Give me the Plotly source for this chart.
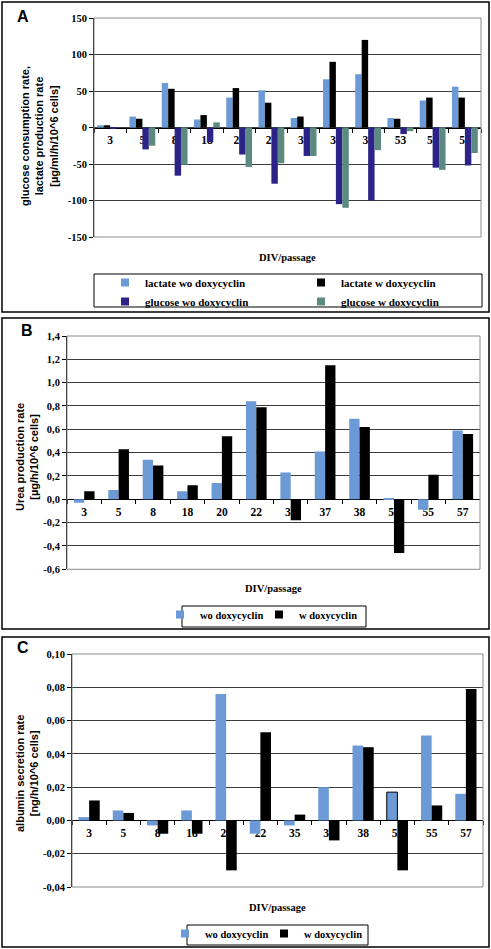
import plotly.graph_objects as go

# ---------------- data ----------------
categories = ["3", "5", "8", "18", "20", "22", "35", "37", "38", "53", "55", "57"]

# Panel A: glucose consumption / lactate production [µg/ml/h/10^6 cells]
lactate_wo = [3, 15, 61, 11, 41, 51, 13, 66, 73, 13, 37, 56]
lactate_w = [3, 12, 53, 17, 54, 34, 15, 90, 120, 12, 41, 41]
glucose_wo = [-2, -30, -66, -20, -37, -77, -39, -105, -100, -9, -55, -52]
glucose_w = [0, -25, -51, 7, -54, -49, -39, -110, -31, -5, -58, -35]

# Panel B: urea production rate [µg/h/10^6 cells]
urea_wo = [-0.03, 0.08, 0.34, 0.07, 0.14, 0.84, 0.23, 0.41, 0.69, 0.01, -0.09, 0.59]
urea_w = [0.07, 0.43, 0.29, 0.12, 0.54, 0.79, -0.18, 1.15, 0.62, -0.46, 0.21, 0.56]

# Panel C: albumin secretion rate [ng/h/10^6 cells]
albumin_wo = [0.002, 0.006, -0.003, 0.006, 0.076, -0.008, -0.003, 0.020, 0.045, 0.017, 0.051, 0.016]
albumin_w = [0.012, 0.0045, -0.008, -0.008, -0.030, 0.053, 0.0035, -0.012, 0.044, -0.030, 0.009, 0.079]

# tick labels
ytick_vals_A = [-150, -100, -50, 0, 50, 100, 150]
ytick_text_A = ["-150", "-100", "-50", "0", "50", "100", "150"]
ytick_vals_B = [-0.6, -0.4, -0.2, 0.0, 0.2, 0.4, 0.6, 0.8, 1.0, 1.2, 1.4]
ytick_text_B = ["-0,6", "-0,4", "-0,2", "0,0", "0,2", "0,4", "0,6", "0,8", "1,0", "1,2", "1,4"]
ytick_vals_C = [-0.04, -0.02, 0.00, 0.02, 0.04, 0.06, 0.08, 0.10]
ytick_text_C = ["-0,04", "-0,02", "0,00", "0,02", "0,04", "0,06", "0,08", "0,10"]

# ---------------- styling ----------------
W, H = 491, 949
C_LWO = "#6b9ad6"
C_LW = "#000000"
C_GWO = "#2b2388"
C_GW = "#5c8a80"
SERIF = "Liberation Serif"
SANS = "Liberation Sans"


def fx(px):
    return px / W


def fy(px):
    return 1 - px / H


panels = {
    "A": dict(xd=[94, 481], yd=[18, 237], rng=[-150, 150]),
    "B": dict(xd=[67, 480], yd=[336, 569.3], rng=[-0.6, 1.4]),
    "C": dict(xd=[72, 483], yd=[654, 887], rng=[-0.04, 0.10]),
}

fig = go.Figure()


def add_bars(series, xa, ya, width, legend):
    n = len(series)
    total = width * n
    for i, (name, vals, color, lw) in enumerate(series):
        off = -total / 2 + i * width
        fig.add_trace(go.Bar(
            x=categories, y=vals, name=name, width=width, offset=off,
            marker=dict(color=color, line=dict(color="#000000", width=lw)),
            xaxis=xa, yaxis=ya, showlegend=False))
        fig.add_trace(go.Scatter(
            x=[None], y=[None], mode="markers", name=name,
            marker=dict(symbol="square", size=8, color=color),
            xaxis=xa, yaxis=ya, legend=legend, showlegend=True))


add_bars([("lactate wo doxycyclin", lactate_wo, C_LWO, 0),
          ("lactate w doxycyclin", lactate_w, C_LW, 0),
          ("glucose wo doxycyclin", glucose_wo, C_GWO, 0),
          ("glucose w doxycyclin", glucose_w, C_GW, 0)], "x", "y", 0.2, "legend")
add_bars([("wo doxycyclin", urea_wo, C_LWO, 0),
          ("w doxycyclin", urea_w, C_LW, 0)], "x2", "y2", 0.3, "legend2")
alb_lw = [1 if i == 9 else 0 for i in range(len(categories))]
add_bars([("wo doxycyclin", albumin_wo, C_LWO, alb_lw),
          ("w doxycyclin", albumin_w, C_LW, 0)], "x3", "y3", 0.31, "legend3")

xtickfont = dict(family=SERIF, size=11.5, color="black", weight="bold")
ytickfont = dict(family=SERIF, size=10.5, color="black", weight="bold")

layout = dict(
    width=W, height=H, margin=dict(l=0, r=0, t=0, b=0, autoexpand=False),
    paper_bgcolor="white", plot_bgcolor="white",
    barmode="overlay", separators=", ",
)

ticks = {"A": (ytick_vals_A, ytick_text_A), "B": (ytick_vals_B, ytick_text_B), "C": (ytick_vals_C, ytick_text_C)}
shapes = []
annotations = []
ytitles = {
    "A": "glucose consumption rate,<br>lactate production rate<br>[µg/ml/h/10^6 cells]",
    "B": "Urea production rate<br>[µg/h/10^6 cells]",
    "C": "albumin secretion rate<br>[ng/h/10^6 cells]",
}
ytitle_x = {"A": 39, "B": 27, "C": 27}
ytitle_y = {"A": 136, "B": 457, "C": 774}
xtitle_y = {"A": 257, "B": 588, "C": 907}
letter_pos = {"A": (23, 16), "B": (27, 330), "C": (23, 647)}
outer = {"A": (2, 489, 2, 312), "B": (2, 489, 318, 629), "C": (2, 489, 637, 947)}
legbox = {"A": (94, 482, 274, 307), "B": (182, 366, 606, 627), "C": (187, 368, 925, 945)}

for k, (key, p) in enumerate(panels.items()):
    sfx = "" if k == 0 else str(k + 1)
    xd = [fx(p["xd"][0]), fx(p["xd"][1])]
    yd = [fy(p["yd"][1]), fy(p["yd"][0])]
    r0, r1 = p["rng"]
    zero_pos = yd[0] + (0 - r0) / (r1 - r0) * (yd[1] - yd[0])
    layout["xaxis" + sfx] = dict(
        domain=xd, anchor="free", position=zero_pos, type="category",
        range=[-0.5, len(categories) - 0.5], showgrid=False, zeroline=False,
        showline=True, linecolor="black", linewidth=1,
        ticks="outside", ticklen=4, tickcolor="black", tickson="boundaries",
        tickfont=xtickfont, layer="below traces", automargin=False,
        ticklabelstandoff=2)
    tv, tt = ticks[key]
    layout["yaxis" + sfx] = dict(
        domain=yd, anchor="x" + sfx, range=p["rng"], tickvals=tv, ticktext=tt,
        showgrid=True, gridcolor="#3c3c3c", gridwidth=1, zeroline=False,
        showline=True, linecolor="black", linewidth=1, automargin=False,
        ticks="outside", ticklen=4, tickcolor="black", tickfont=ytickfont)
    # plot-area border
    shapes.append(dict(type="rect", xref="x" + sfx + " domain", yref="y" + sfx + " domain",
                       x0=0, x1=1, y0=0, y1=1, line=dict(color="#8a8a8a", width=1)))
    # outer panel border
    ox0, ox1, oy0, oy1 = outer[key]
    shapes.append(dict(type="rect", xref="paper", yref="paper",
                       x0=fx(ox0), x1=fx(ox1), y0=fy(oy1), y1=fy(oy0),
                       line=dict(color="black", width=1.5)))
    # legend box
    lx0, lx1, ly0, ly1 = legbox[key]
    shapes.append(dict(type="rect", xref="paper", yref="paper",
                       x0=fx(lx0), x1=fx(lx1), y0=fy(ly1), y1=fy(ly0),
                       line=dict(color="black", width=1)))
    # titles
    annotations.append(dict(text=ytitles[key], x=fx(ytitle_x[key]), y=fy(ytitle_y[key]),
                            xref="paper", yref="paper", textangle=-90, showarrow=False,
                            font=dict(family=SANS, size=11, color="black", weight="bold"),
                            xanchor="center", yanchor="middle"))
    annotations.append(dict(text="DIV/passage", x=(xd[0] + xd[1]) / 2, y=fy(xtitle_y[key]),
                            xref="paper", yref="paper", showarrow=False,
                            font=dict(family=SERIF, size=10.5, color="black", weight="bold"),
                            xanchor="center", yanchor="middle"))
    lx, ly = letter_pos[key]
    annotations.append(dict(text=key, x=fx(lx), y=fy(ly), xref="paper", yref="paper",
                            showarrow=False, xanchor="center", yanchor="middle",
                            font=dict(family=SANS, size=16, color="black", weight="bold")))

legfontA = dict(family=SERIF, size=11, color="black", weight="bold")
legfontBC = dict(family=SERIF, size=10.5, color="black", weight="bold")
common = dict(xanchor="left", yanchor="top", orientation="h", entrywidthmode="pixels",
              bgcolor="rgba(0,0,0,0)", borderwidth=0, itemsizing="trace",
              traceorder="normal", tracegroupgap=0, xref="container", yref="container")
layout["legend"] = dict(x=fx(105), y=fy(268), entrywidth=151, font=legfontA, **common)
layout["legend2"] = dict(x=fx(160), y=fy(600), entrywidth=54, font=legfontBC, **common)
layout["legend3"] = dict(x=fx(165), y=fy(919), entrywidth=54, font=legfontBC, **common)
layout["shapes"] = shapes
layout["annotations"] = annotations
fig.update_layout(**layout)

fig.write_html("out.html", config={"displayModeBar": False},
               post_script="document.body.style.margin='0';")
